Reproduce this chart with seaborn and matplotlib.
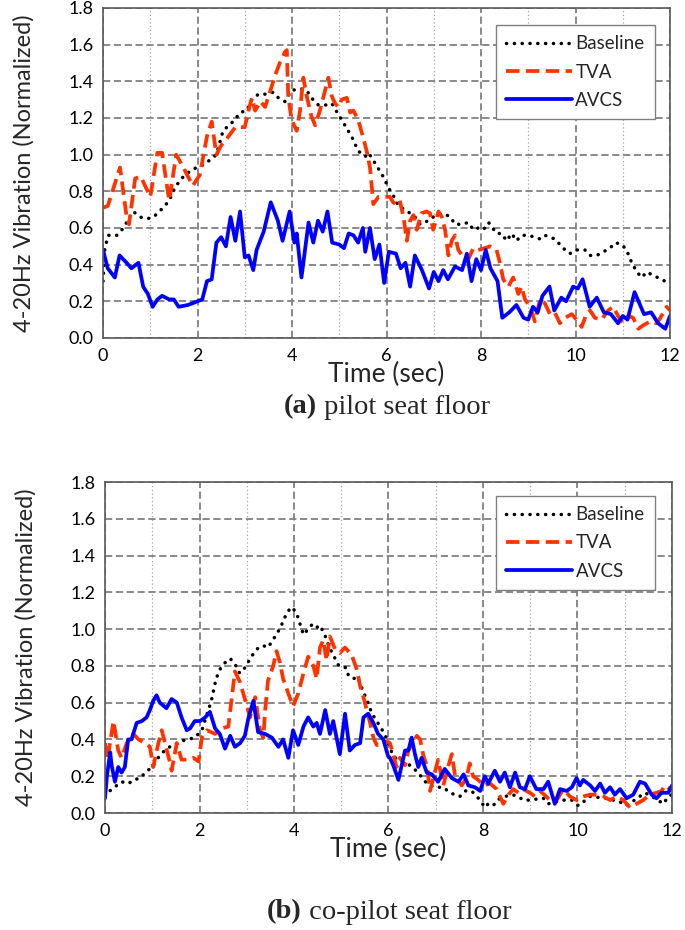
import numpy as np
import pandas as pd
import matplotlib
matplotlib.use("Agg")
import matplotlib.pyplot as plt
import seaborn as sns

# ---- panel (a): pilot seat floor ----
a_base_t = [0, 0.04, 0.11, 0.29, 0.4, 0.5, 0.64, 0.78, 0.93, 1.07,
            1.31, 1.42, 1.52, 1.66, 1.84, 1.98, 2.09, 2.26, 2.4, 2.54,
            2.79, 2.9, 3.04, 3.15, 3.29, 3.43, 3.6, 3.71, 3.85, 3.99,
            4.17, 4.31, 4.41, 4.56, 4.7, 4.84, 4.98, 5.12, 5.26, 5.4,
            5.55, 5.62, 5.79, 5.93, 6.04, 6.18, 6.25, 6.39, 6.5, 6.6,
            6.71, 6.82, 6.92, 7.06, 7.2, 7.35, 7.45, 7.59, 7.73, 7.84,
            7.94, 8.05, 8.16, 8.33, 8.44, 8.54, 8.65, 8.75, 8.86, 9.0,
            9.14, 9.25, 9.35, 9.46, 9.56, 9.67, 9.78, 9.88, 10.02, 10.2,
            10.31, 10.45, 10.59, 10.73, 10.84, 10.98, 11.08, 11.19, 11.3, 11.4,
            11.51, 11.65, 11.82, 11.96]
a_base_v = [0.31, 0.49, 0.56, 0.56, 0.59, 0.63, 0.69, 0.66, 0.65, 0.66,
            0.72, 0.76, 0.82, 0.87, 0.91, 0.93, 0.94, 0.97, 1.0, 1.13,
            1.19, 1.23, 1.24, 1.30, 1.33, 1.33, 1.34, 1.31, 1.29, 1.35,
            1.36, 1.35, 1.31, 1.27, 1.27, 1.28, 1.22, 1.16, 1.10, 1.02,
            0.99, 1.01, 0.94, 0.88, 0.82, 0.76, 0.72, 0.70, 0.68, 0.66,
            0.62, 0.63, 0.65, 0.67, 0.68, 0.66, 0.62, 0.62, 0.63, 0.59,
            0.60, 0.59, 0.63, 0.57, 0.57, 0.53, 0.57, 0.53, 0.56, 0.56,
            0.55, 0.54, 0.56, 0.55, 0.54, 0.51, 0.48, 0.46, 0.48, 0.48,
            0.45, 0.45, 0.47, 0.49, 0.52, 0.51, 0.48, 0.41, 0.36, 0.33,
            0.36, 0.34, 0.32, 0.30]

a_tva_t = [0, 0.1, 0.2, 0.36, 0.5, 0.55, 0.68, 0.8, 1.0, 1.15,
           1.25, 1.4, 1.55, 1.7, 1.9, 2.05, 2.2, 2.3, 2.4, 2.5,
           2.6, 2.8, 3.0, 3.08, 3.15, 3.22, 3.33, 3.43, 3.53, 3.64,
           3.74, 3.85, 3.89, 3.92, 3.99, 4.1, 4.17, 4.24, 4.31, 4.41,
           4.49, 4.59, 4.7, 4.77, 4.84, 4.91, 4.98, 5.05, 5.16, 5.23,
           5.3, 5.4, 5.51, 5.58, 5.65, 5.69, 5.72, 5.83, 5.97, 6.07,
           6.14, 6.21, 6.28, 6.36, 6.43, 6.5, 6.57, 6.64, 6.74, 6.85,
           6.92, 6.99, 7.1, 7.17, 7.24, 7.31, 7.38, 7.45, 7.52, 7.63,
           7.73, 7.84, 7.94, 8.08, 8.19, 8.33, 8.4, 8.47, 8.58, 8.68,
           8.79, 8.86, 8.93, 9.04, 9.14, 9.25, 9.35, 9.46, 9.56, 9.67,
           9.78, 9.92, 10.02, 10.13, 10.23, 10.31, 10.41, 10.55, 10.69, 10.8,
           10.9, 11.01, 11.12, 11.22, 11.33, 11.44, 11.58, 11.72, 11.82, 11.93,
           12.0]
a_tva_v = [0.71, 0.72, 0.80, 0.93, 0.66, 0.62, 0.87, 0.88, 0.77, 1.01,
           1.01, 0.75, 1.0, 0.93, 0.83, 0.89, 1.10, 1.18, 1.0, 1.05,
           1.08, 1.15, 1.15, 1.24, 1.31, 1.24, 1.29, 1.26, 1.34, 1.43,
           1.50, 1.56, 1.57, 1.32, 1.19, 1.13, 1.24, 1.42, 1.32, 1.21,
           1.16, 1.24, 1.35, 1.42, 1.32, 1.28, 1.26, 1.30, 1.31, 1.23,
           1.24, 1.19, 1.09, 1.02, 0.93, 0.82, 0.73, 0.77, 0.77, 0.77,
           0.74, 0.73, 0.75, 0.66, 0.53, 0.64, 0.67, 0.59, 0.68, 0.69,
           0.68, 0.59, 0.69, 0.66, 0.59, 0.45, 0.53, 0.56, 0.48, 0.44,
           0.43, 0.49, 0.48, 0.49, 0.50, 0.48, 0.41, 0.32, 0.28, 0.33,
           0.24, 0.28, 0.21, 0.17, 0.09, 0.21, 0.19, 0.13, 0.14, 0.08,
           0.11, 0.13, 0.10, 0.06, 0.13, 0.15, 0.11, 0.10, 0.15, 0.17,
           0.12, 0.08, 0.12, 0.11, 0.05, 0.07, 0.09, 0.08, 0.12, 0.17,
           0.15]

a_avcs_t = [0, 0.1, 0.25, 0.35, 0.5, 0.6, 0.75, 0.85, 0.95, 1.05,
            1.15, 1.25, 1.4, 1.5, 1.6, 1.8, 2.0, 2.1, 2.2, 2.3,
            2.4, 2.5, 2.6, 2.7, 2.8, 2.9, 3.0, 3.08, 3.18, 3.25,
            3.4, 3.55, 3.7, 3.8, 3.95, 4.05, 4.1, 4.2, 4.35, 4.45,
            4.55, 4.65, 4.75, 4.85, 5.0, 5.1, 5.2, 5.3, 5.4, 5.5,
            5.55, 5.65, 5.75, 5.85, 5.95, 6.05, 6.2, 6.3, 6.4, 6.5,
            6.6, 6.75, 6.9, 7.0, 7.1, 7.2, 7.3, 7.45, 7.6, 7.7,
            7.8, 7.9, 8.0, 8.1, 8.2, 8.35, 8.45, 8.6, 8.75, 8.9,
            9.0, 9.1, 9.2, 9.3, 9.45, 9.55, 9.7, 9.8, 9.95, 10.05,
            10.15, 10.3, 10.45, 10.6, 10.75, 10.9, 11.0, 11.1, 11.25, 11.45,
            11.6, 11.75, 11.9, 12.0]
a_avcs_v = [0.48, 0.38, 0.33, 0.45, 0.41, 0.38, 0.41, 0.28, 0.24, 0.17,
            0.21, 0.23, 0.21, 0.21, 0.17, 0.18, 0.20, 0.21, 0.31, 0.32,
            0.52, 0.55, 0.50, 0.66, 0.53, 0.69, 0.44, 0.45, 0.37, 0.48,
            0.58, 0.74, 0.64, 0.53, 0.69, 0.52, 0.57, 0.33, 0.63, 0.52,
            0.64, 0.58, 0.69, 0.52, 0.51, 0.49, 0.57, 0.56, 0.52, 0.60,
            0.47, 0.60, 0.43, 0.51, 0.30, 0.47, 0.46, 0.38, 0.41, 0.28,
            0.45, 0.37, 0.27, 0.36, 0.31, 0.37, 0.32, 0.39, 0.37, 0.46,
            0.31, 0.43, 0.37, 0.48, 0.38, 0.31, 0.11, 0.14, 0.18, 0.11,
            0.10, 0.17, 0.14, 0.23, 0.28, 0.15, 0.22, 0.20, 0.28, 0.27,
            0.32, 0.17, 0.22, 0.14, 0.13, 0.08, 0.12, 0.10, 0.25, 0.13,
            0.14, 0.08, 0.05, 0.12]

# ---- panel (b): co-pilot seat floor ----
b_base_t = [0, 0.1, 0.2, 0.35, 0.5, 0.6, 0.75, 0.85, 1.0, 1.15,
            1.3, 1.45, 1.6, 1.75, 1.9, 2.05, 2.15, 2.25, 2.35, 2.45,
            2.55, 2.65, 2.75, 2.85, 2.96, 3.05, 3.15, 3.25, 3.35, 3.45,
            3.55, 3.65, 3.75, 3.85, 3.95, 4.05, 4.15, 4.2, 4.3, 4.4,
            4.5, 4.55, 4.65, 4.75, 4.85, 4.95, 5.1, 5.15, 5.25, 5.35,
            5.45, 5.55, 5.65, 5.75, 5.85, 5.95, 6.07, 6.14, 6.45, 6.63,
            6.74, 6.86, 7.02, 7.16, 7.3, 7.51, 7.62, 7.76, 7.94, 8.04,
            8.11, 8.22, 8.29, 8.47, 8.61, 8.75, 8.85, 8.96, 9.28, 9.38,
            9.67, 9.88, 10.02, 10.27, 10.62, 10.9, 11.04, 11.43, 11.64, 11.82,
            11.92, 12.0]
b_base_v = [0.09, 0.12, 0.14, 0.17, 0.16, 0.18, 0.19, 0.22, 0.25, 0.31,
            0.35, 0.37, 0.39, 0.40, 0.41, 0.45, 0.53, 0.61, 0.73, 0.79,
            0.82, 0.84, 0.81, 0.76, 0.79, 0.83, 0.87, 0.90, 0.91, 0.90,
            0.94, 0.98, 1.03, 1.09, 1.12, 1.09, 1.01, 0.97, 1.00, 1.03,
            1.01, 1.02, 0.97, 0.90, 0.85, 0.80, 0.79, 0.75, 0.73, 0.74,
            0.67, 0.61, 0.54, 0.50, 0.46, 0.41, 0.33, 0.30, 0.26, 0.22,
            0.18, 0.15, 0.14, 0.14, 0.11, 0.09, 0.12, 0.12, 0.07, 0.03,
            0.05, 0.04, 0.07, 0.09, 0.10, 0.09, 0.07, 0.07, 0.08, 0.05,
            0.07, 0.07, 0.04, 0.09, 0.08, 0.06, 0.04, 0.11, 0.08, 0.05,
            0.09, 0.10]

b_tva_t = [0, 0.05, 0.18, 0.28, 0.35, 0.46, 0.6, 0.71, 0.85, 0.95,
           1.02, 1.13, 1.2, 1.27, 1.38, 1.41, 1.52, 1.62, 1.73, 1.87,
           1.98, 2.05, 2.16, 2.33, 2.47, 2.61, 2.68, 2.75, 2.86, 2.96,
           3.07, 3.18, 3.28, 3.35, 3.39, 3.45, 3.56, 3.63, 3.7, 3.77,
           3.88, 3.98, 4.09, 4.2, 4.3, 4.41, 4.48, 4.55, 4.62, 4.69,
           4.76, 4.87, 4.97, 5.08, 5.22, 5.33, 5.4, 5.47, 5.54, 5.61,
           5.68, 5.75, 5.85, 5.96, 6.03, 6.1, 6.17, 6.24, 6.35, 6.42,
           6.6, 6.67, 6.74, 6.81, 6.88, 6.95, 7.05, 7.16, 7.26, 7.34,
           7.41, 7.55, 7.65, 7.72, 7.79, 7.9, 8.01, 8.15, 8.29, 8.43,
           8.54, 8.64, 8.75, 8.85, 8.99, 9.1, 9.21, 9.42, 9.56, 9.7,
           9.84, 9.98, 10.12, 10.27, 10.41, 10.55, 10.69, 10.83, 10.97, 11.11,
           11.25, 11.39, 11.53, 11.67, 11.78, 11.85, 11.96, 12.0]
b_tva_v = [0.38, 0.29, 0.50, 0.34, 0.30, 0.38, 0.43, 0.40, 0.38, 0.36,
           0.25, 0.38, 0.45, 0.38, 0.27, 0.23, 0.38, 0.29, 0.29, 0.30,
           0.28, 0.41, 0.45, 0.43, 0.46, 0.47, 0.62, 0.77, 0.71, 0.62,
           0.52, 0.63, 0.45, 0.41, 0.56, 0.72, 0.80, 0.88, 0.82, 0.73,
           0.65, 0.58, 0.65, 0.76, 0.85, 0.80, 0.73, 0.90, 0.94, 0.83,
           0.96, 0.89, 0.87, 0.90, 0.86, 0.78, 0.69, 0.63, 0.56, 0.49,
           0.41, 0.37, 0.37, 0.39, 0.38, 0.32, 0.25, 0.30, 0.26, 0.34,
           0.42, 0.40, 0.31, 0.26, 0.12, 0.19, 0.29, 0.15, 0.25, 0.32,
           0.20, 0.15, 0.19, 0.27, 0.20, 0.18, 0.15, 0.16, 0.13, 0.05,
           0.10, 0.13, 0.11, 0.13, 0.11, 0.09, 0.12, 0.07, 0.07, 0.13,
           0.09, 0.07, 0.09, 0.10, 0.10, 0.09, 0.07, 0.09, 0.07, 0.03,
           0.05, 0.07, 0.10, 0.11, 0.12, 0.15, 0.13, 0.12]

b_avcs_t = [0, 0.04, 0.11, 0.14, 0.21, 0.28, 0.35, 0.42, 0.49, 0.56,
            0.67, 0.78, 0.88, 0.95, 1.02, 1.09, 1.16, 1.3, 1.41, 1.52,
            1.62, 1.73, 1.8, 1.9, 2.01, 2.12, 2.22, 2.33, 2.43, 2.54,
            2.65, 2.75, 2.86, 2.96, 3.03, 3.14, 3.24, 3.39, 3.53, 3.67,
            3.77, 3.88, 3.98, 4.09, 4.2, 4.3, 4.41, 4.48, 4.55, 4.66,
            4.76, 4.83, 4.97, 5.08, 5.18, 5.29, 5.4, 5.47, 5.57, 5.68,
            5.78, 5.89, 5.99, 6.03, 6.1, 6.21, 6.28, 6.35, 6.42, 6.49,
            6.56, 6.63, 6.7, 6.81, 6.92, 7.05, 7.19, 7.34, 7.48, 7.59,
            7.69, 7.83, 7.94, 8.04, 8.11, 8.25, 8.36, 8.46, 8.57, 8.68,
            8.78, 8.89, 8.99, 9.13, 9.28, 9.38, 9.52, 9.63, 9.77, 9.88,
            9.98, 10.05, 10.12, 10.27, 10.37, 10.48, 10.58, 10.69, 10.79, 10.9,
            11.04, 11.18, 11.32, 11.43, 11.57, 11.67, 11.78, 11.92, 12.0]
b_avcs_v = [0.08, 0.20, 0.33, 0.26, 0.17, 0.25, 0.22, 0.25, 0.40, 0.40,
            0.49, 0.50, 0.52, 0.56, 0.61, 0.64, 0.60, 0.57, 0.62, 0.60,
            0.52, 0.45, 0.46, 0.50, 0.50, 0.52, 0.55, 0.46, 0.43, 0.35,
            0.42, 0.36, 0.38, 0.42, 0.51, 0.61, 0.44, 0.43, 0.41, 0.36,
            0.40, 0.30, 0.45, 0.37, 0.47, 0.52, 0.47, 0.49, 0.43, 0.56,
            0.43, 0.50, 0.32, 0.54, 0.34, 0.37, 0.38, 0.52, 0.54, 0.49,
            0.43, 0.40, 0.31, 0.30, 0.26, 0.18, 0.26, 0.34, 0.34, 0.41,
            0.32, 0.25, 0.30, 0.22, 0.21, 0.17, 0.24, 0.19, 0.17, 0.21,
            0.15, 0.14, 0.12, 0.20, 0.16, 0.23, 0.17, 0.22, 0.14, 0.22,
            0.14, 0.13, 0.20, 0.13, 0.13, 0.17, 0.05, 0.13, 0.12, 0.14,
            0.19, 0.15, 0.18, 0.15, 0.12, 0.16, 0.11, 0.14, 0.10, 0.13,
            0.08, 0.10, 0.17, 0.16, 0.10, 0.08, 0.11, 0.11, 0.15]

series_names = ["Baseline", "TVA", "AVCS"]
x_ticks = [0, 2, 4, 6, 8, 10, 12]
y_ticks = [0.0, 0.2, 0.4, 0.6, 0.8, 1.0, 1.2, 1.4, 1.6, 1.8]
captions = [("(a)", " pilot seat floor"), ("(b)", " co-pilot seat floor")]

sns.set_theme(style="white")
plt.rcParams["font.family"] = ["Lato", "DejaVu Sans"]

styles = {
    "Baseline": dict(color="black", lw=2.5, ls=(0, (0.05, 2.2)), dash_capstyle="round"),
    "TVA": dict(color="#FF3300", lw=2.7, ls=(0, (3.6, 1.7))),
    "AVCS": dict(color="#0000FF", lw=2.7, ls="-"),
}

serif = ["Liberation Serif", "DejaVu Serif"]

fig = plt.figure(figsize=(6.85, 9.30), dpi=100)
axA = fig.add_axes([0.1504, 0.6366, 0.8277, 0.3548])
axB = fig.add_axes([0.1533, 0.1258, 0.8277, 0.3559])

# legend anchor (axes coords) and caption height (figure coords) per panel
panels = [
    (axA, [(a_base_t, a_base_v), (a_tva_t, a_tva_v), (a_avcs_t, a_avcs_v)], (0.973, 0.948), 1 - 407 / 930),
    (axB, [(b_base_t, b_base_v), (b_tva_t, b_tva_v), (b_avcs_t, b_avcs_v)], (0.970, 0.958), 1 - 912 / 930),
]

for (ax, data, legPos, capY), (capBold, capText) in zip(panels, captions):
    for name, (t, v) in zip(series_names, data):
        df = pd.DataFrame({"time": t, "value": v})
        sns.lineplot(data=df, x="time", y="value", ax=ax, sort=False,
                     estimator=None, label=name, **styles[name])

    ax.set_xlim(0, 12)
    ax.set_ylim(0, 1.8)
    ax.set_xticks(x_ticks)
    ax.set_xticks([1, 3, 5, 7, 9, 11], minor=True)
    ax.set_yticks(y_ticks)
    ax.set_yticklabels([f"{y:.1f}" for y in y_ticks])
    ax.tick_params(axis="both", which="both", length=0, labelsize=13,
                   colors="black", pad=7)
    ax.grid(which="major", ls=(0, (4, 2)), color="#808080", lw=1.3)
    ax.grid(which="minor", axis="x", ls=(0, (1, 2)), color="#A6A6A6", lw=0.9)
    ax.set_axisbelow(True)
    for sp in ax.spines.values():
        sp.set_color("#595959")
        sp.set_linewidth(1.2)

    ax.set_xlabel("Time (sec)", fontsize=19, labelpad=-1)
    ax.set_ylabel("4-20Hz Vibration (Normalized)", fontsize=17, labelpad=24)

    leg = ax.legend(loc="upper right", bbox_to_anchor=legPos, fontsize=13.5,
                    handlelength=3.5, handletextpad=0.2, borderpad=0.55,
                    labelspacing=0.6, borderaxespad=0, fancybox=False,
                    framealpha=1)
    leg.get_frame().set_edgecolor("#808080")
    leg.get_frame().set_linewidth(1.0)

    # caption under each panel, serif, bold panel letter, centred on the axes
    capSize = 20.5
    pos = ax.get_position()
    capX = (pos.x0 + pos.x1) / 2
    t1 = fig.text(capX, capY, capBold + capText, fontsize=capSize,
                  family=serif, ha="center", va="center", alpha=0)
    fig.canvas.draw()
    figW = fig.bbox.width
    x0 = t1.get_window_extent().x0 / figW
    tb = fig.text(x0, capY, capBold, fontsize=capSize, fontweight="bold",
                  family=serif, ha="left", va="center")
    fig.canvas.draw()
    fig.text(tb.get_window_extent().x1 / figW, capY, capText, fontsize=capSize,
             family=serif, ha="left", va="center")

fig.savefig("out.png", dpi=100)
